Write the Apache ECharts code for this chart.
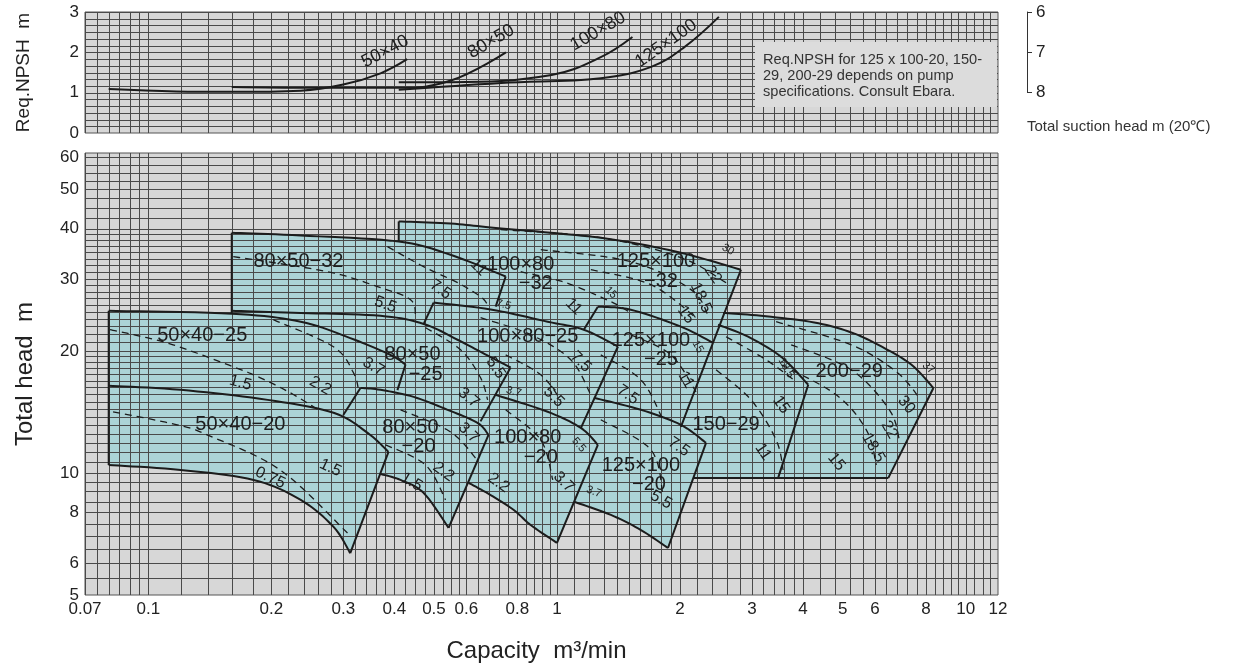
<!DOCTYPE html>
<html><head><meta charset="utf-8">
<script src="https://cdn.jsdelivr.net/npm/echarts@6/dist/echarts.min.js"></script>
<style>html,body{margin:0;padding:0;background:#fff}#c{width:1241px;height:671px}</style>
</head><body><div id="c"></div>
<script>
// ---------- axis ticks ----------
const capTicks = [0.07,0.1,0.2,0.3,0.4,0.5,0.6,0.8,1,2,3,4,5,6,8,10,12];
const headTicks = [5,6,8,10,20,30,40,50,60];
const npshTicks = [0,1,2,3];
const suctionTicks = [6,7,8];

// ---------- NPSH curves [capacity m3/min, NPSH m] ----------
const npsh50x40 = [[0.08,1.09],[0.117,1.03],[0.16,1.02],[0.236,1.05],[0.3,1.2],[0.37,1.48],[0.43,1.83]];
const npsh80x50 = [[0.16,1.14],[0.25,1.12],[0.41,1.12],[0.55,1.3],[0.75,2.0]];
const npsh100x80 = [[0.41,1.26],[0.55,1.26],[0.97,1.44],[1.28,1.88],[1.53,2.38]];
const npsh125x100 = [[0.41,1.07],[0.73,1.24],[1.28,1.36],[1.7,1.64],[2.05,2.13],[2.49,2.88]];
const npshLabels = [['50×40',0.38,2.02,28],['80×50',0.69,2.27,30],['100×80',1.26,2.52,30],['125×100',1.85,2.22,35]];

// ---------- performance-range boundaries [capacity, head] ----------
const left50x40 = [[0.08,10.46],[0.08,25.1]];
const top50x40_25 = [[0.08,25.1],[0.16,24.7],[0.236,23.6],[0.312,21.5],[0.391,19.55],[0.426,18.5]];
const right50x40_25 = [[0.426,18.5],[0.407,16.0]];
const top50x40_20 = [[0.08,16.4],[0.12,16.03],[0.196,15.14],[0.284,14.07],[0.344,12.55],[0.387,11.27]];
const right50x40_20 = [[0.387,11.27],[0.312,6.34]];
const bottom50x40_20 = [[0.312,6.34],[0.284,7.36],[0.236,8.58],[0.181,9.61],[0.12,10.17],[0.08,10.46]];
const left80x50_32 = [[0.16,24.7],[0.16,39.1]];
const top80x50_32 = [[0.16,39.1],[0.236,38.5],[0.41,37.2],[0.549,34.5],[0.749,30.5]];
const right80x50_32 = [[0.749,30.5],[0.708,25.7]];
const top80x50_25 = [[0.16,25.1],[0.236,24.8],[0.37,24.4],[0.472,23.3],[0.571,21.3],[0.688,19.3],[0.770,18.2]];
const right80x50_25 = [[0.770,18.2],[0.65,13.4]];
const left80x50_20 = [[0.3305,16.2],[0.300,13.9]];
const top80x50_20 = [[0.3305,16.2],[0.37,16.03],[0.446,15.4],[0.540,14.31],[0.639,13.29],[0.680,12.41]];
const right80x50_20 = [[0.680,12.41],[0.543,7.32]];
const bottom80x50_20 = [[0.370,9.94],[0.414,9.61],[0.472,8.92],[0.543,7.32]];
const left100x80_25 = [[0.499,26.3],[0.472,23.3]];
const top100x80_25 = [[0.499,26.3],[0.688,25.3],[0.949,23.6],[1.163,22.55],[1.41,20.5]];
const right100x80_25 = [[1.41,20.5],[1.144,12.9]];
const top100x80_20 = [[0.704,15.6],[0.949,14.15],[1.144,12.91],[1.259,11.73]];
const right100x80_20 = [[1.259,11.73],[1.0,6.72]];
const bottom100x80_20 = [[0.608,9.45],[0.688,8.82],[0.784,8.10],[0.862,7.44],[1.0,6.72]];
const left100x125_32 = [[0.41,37.2],[0.41,41.7]];
const top100x125_32 = [[0.41,41.7],[0.549,41.2],[0.688,40.3],[0.966,39.1],[1.378,37.6],[2.01,34.9],[2.82,31.7]];
const right125x100 = [[2.82,31.7],[2.409,20.94],[2.01,12.99]];
const left125x100_25 = [[1.259,25.7],[1.163,22.55]];
const top125x100_25 = [[1.259,25.7],[1.516,25.26],[2.01,22.94],[2.409,20.94]];
const top125x100_20 = [[1.231,15.32],[1.605,14.31],[2.01,13.14],[2.316,11.86]];
const right125x100_20 = [[2.316,11.86],[1.869,6.53]];
const bottom125x100_20 = [[1.105,8.48],[1.355,7.88],[1.605,7.23],[1.869,6.53]];
const top150_29 = [[2.478,23.2],[2.935,21.67],[3.537,19.33],[4.119,16.5]];
const right150_29 = [[4.119,16.5],[3.477,9.72]];
const bottom29 = [[2.152,9.72],[6.47,9.72]];
const top200_29 = [[2.55,24.8],[3.16,24.4],[4.26,23.5],[5.25,22.2],[6.22,20.5],[7.36,18.5],[8.34,16.2]];
const right200_29 = [[8.34,16.2],[6.47,9.72]];

const solidLines = [left50x40,top50x40_25,right50x40_25,top50x40_20,right50x40_20,bottom50x40_20,
  left80x50_32,top80x50_32,right80x50_32,top80x50_25,right80x50_25,left80x50_20,top80x50_20,right80x50_20,bottom80x50_20,
  left100x80_25,top100x80_25,right100x80_25,top100x80_20,right100x80_20,bottom100x80_20,
  left100x125_32,top100x125_32,right125x100,left125x100_25,top125x100_25,top125x100_20,right125x100_20,bottom125x100_20,
  top150_29,right150_29,bottom29,top200_29,right200_29];

// tinted (covered) area, as boundary pieces in order
const coveredArea = [
  [[0.08,25.1],[0.16,24.7]], left80x50_32, top80x50_32.slice(0,3), left100x125_32, top100x125_32,
  [[2.82,31.7],[2.55,24.8]], top200_29, right200_29, [[6.47,9.72],[2.152,9.72]], [[2.152,9.72],[1.869,6.53]],
  bottom125x100_20.slice().reverse(), [[1.105,8.48],[1.0,6.72]], bottom100x80_20.slice().reverse(),
  [[0.608,9.45],[0.543,7.32]], bottom80x50_20.slice().reverse(), [[0.370,9.94],[0.312,6.34]], bottom50x40_20, left50x40
];

// motor output boundaries (dashed)
const dash50x40_20 = [[0.082,14.15],[0.1177,13.14],[0.1393,12.41],[0.2103,10.17],[0.3072,7.11]];
const dash50x40_25a = [[0.0806,22.55],[0.0918,21.93],[0.115,20.7],[0.1614,18.27],[0.188,17.16],[0.2226,15.76],[0.2607,14.31]];
const dash50x40_25b = [[0.2022,23.87],[0.2838,20.47],[0.3177,17.66],[0.3268,16.03]];
const dash80x50_32a = [[0.1614,34.15],[0.2744,31.35],[0.3637,28.8],[0.4383,26.74],[0.4508,24.14]];
const dash80x50_32b = [[0.3848,36.14],[0.4716,32.26],[0.5713,29.45],[0.6503,27.2],[0.6766,25.99]];
const dash80x50_25 = [[0.477,22.81],[0.581,20.12],[0.6503,17.16],[0.6766,15.14]];
const dash80x50_20a = [[0.3805,11.73],[0.477,10.46],[0.5337,8.58]];
const dash80x50_20b = [[0.4142,14.31],[0.5492,12.62],[0.6431,10.65]];
const dash100x80_20 = [[0.749,14.31],[0.9127,12.06],[0.9766,9.61]];
const dash125x100_20 = [[1.28,13.52],[1.698,11.40],[1.817,8.82]];
const dash100x80_25a = [[0.6503,24.14],[0.8625,21.92],[1.0809,19.01],[1.2103,15.58]];
const dash100x80_25b = [[0.749,19.55],[0.9127,17.46],[1.0217,15.14]];
const dash125x100_25a = [[1.5163,21.92],[1.9004,19.55],[2.1887,15.85]];
const dash125x100_25b = [[1.28,19.55],[1.6045,16.97],[1.817,13.52]];
const dash100x80_32 = [[0.8153,31.35],[1.0509,29.45],[1.3548,26.44],[1.4993,24.98]];
const dash125x100_32a = [[0.7283,39.81],[1.28,38.04],[2.0108,33.96],[2.593,29.45]];
const dash125x100_32b = [[0.9127,35.53],[1.5163,33.19],[2.1279,28.31],[2.355,24.14]];
const dash125x100_32c = [[1.2103,31.71],[1.698,29.12],[2.1887,24.14]];
const dash150_29a = [[2.593,21.67],[3.249,19.01],[3.849,16.78]];
const dash150_29b = [[2.451,17.96],[2.985,15.14],[3.438,12.06],[3.577,10.17]];
const dash200_29a = [[3.438,23.6],[5.249,20.7],[6.768,17.76],[7.705,15.32]];
const dash200_29b = [[3.742,20.7],[5.249,17.96],[6.507,14.31],[6.884,12.06]];
const dash200_29c = [[3.537,18.48],[4.824,15.58],[5.714,12.77],[6.046,10.46]];
const dashedLines = [dash50x40_20,dash50x40_25a,dash50x40_25b,dash80x50_32a,dash80x50_32b,dash80x50_25,dash80x50_20a,dash80x50_20b,
  dash100x80_20,dash125x100_20,dash100x80_25a,dash100x80_25b,dash125x100_25a,dash125x100_25b,dash100x80_32,
  dash125x100_32a,dash125x100_32b,dash125x100_32c,dash150_29a,dash150_29b,dash200_29a,dash200_29b,dash200_29c];

// model names [text, capacity, head]
const modelLabels = [
  ['80×50−32',0.233,33.2],['50×40−25',0.1355,21.8],['50×40−20',0.168,13.14],
  ['80×50',0.443,19.55],['−25',0.477,17.46],['80×50',0.438,12.91],['−20',0.4585,11.59],
  ['100×80',0.815,32.6],['−32',0.887,29.3],['100×80−25',0.848,21.67],['100×80',0.848,12.2],['−20',0.913,10.89],
  ['125×100',1.7465,33.2],['−32',1.797,29.6],['125×100',1.698,21.19],['−25',1.797,19.0],
  ['125×100',1.6045,10.41],['−20',1.679,9.34],['150−29',2.593,13.14],['200−29',5.19,17.76]
];
// motor outputs kW [text, capacity, head, slant deg, small?]
const kwLabels = [
  ['1.5',0.279,10.29,25,0],['0.75',0.1988,9.72,25,0],['1.5',0.168,16.68,15,0],['2.2',0.2637,16.4,30,0],['3.7',0.3556,18.27,30,0],
  ['5.5',0.3805,25.99,20,0],['7.5',0.519,28.31,35,0],['11',0.643,32.08,45,0],['3.7',0.6078,15.32,40,0],['5.5',0.708,18.16,55,0],
  ['1.5',0.4407,9.5,30,0],['2.2',0.5278,10.06,35,0],['3.7',0.6078,12.55,45,0],['2.2',0.7199,9.45,35,0],['3.7',1.039,9.5,45,0],
  ['5.5',1.131,11.73,50,1],['3.7',1.231,8.98,20,1],['5.5',1.797,8.58,30,0],['7.5',1.9885,11.59,35,0],['3.7',0.7836,15.85,15,1],
  ['5.5',0.982,15.4,45,0],['7.5',1.144,18.79,45,0],['7.5',1.491,15.58,35,0],['11',2.069,16.97,60,0],['15',2.2131,20.47,60,1],
  ['7.5',0.7406,25.99,15,1],['11',1.099,25.7,45,0],['15',1.355,27.83,45,1],['30',2.622,35.53,30,1],['22',2.409,30.83,55,0],
  ['18.5',2.2514,27.04,65,0],['15',2.069,24.56,55,0],['18.5',3.638,18.16,60,1],['15',3.537,14.72,55,0],['11',3.1945,11.27,55,0],
  ['37',8.106,18.16,40,1],['30',7.161,14.72,50,0],['22',6.507,12.77,60,0],['18.5',5.943,11.53,60,0],['15',4.824,10.65,50,0]
];

// ---------- graph-paper rulings ----------
function steps(a,b,s){const r=[];for(let v=a;v<=b+1e-9;v+=s)r.push(+v.toFixed(4));return r;}
const xGrid = [].concat(steps(0.07,0.1,0.005),steps(0.12,0.4,0.02),steps(0.425,0.6,0.025),steps(0.64,1,0.04),
  steps(1.1,2,0.1),steps(2.2,4,0.2),steps(4.4,10,0.4),steps(10.5,12,0.5));
const headGrid = [].concat(steps(5,10,0.5),steps(10.625,20,0.625),steps(21,30,1),steps(31.25,40,1.25),steps(42.5,60,2.5));
const npshGrid = steps(0,3,1/6);

const FONT = '"Liberation Sans", Arial, Helvetica, sans-serif';
const FILL = '#acd4d7';
const INK = '#1c1c1c';
const RULE = '#4a4a4a';
const chart = echarts.init(document.getElementById('c'));

function catmull(pts, seg){
  seg = seg||10;
  if(pts.length<3) return pts.slice();
  const out=[];
  for(let i=0;i<pts.length-1;i++){
    const p0=pts[i-1]||pts[i], p1=pts[i], p2=pts[i+1], p3=pts[i+2]||pts[i+1];
    for(let t=0;t<seg;t++){
      const s=t/seg,s2=s*s,s3=s2*s;
      out.push([0,1].map(k=>0.5*((2*p1[k])+(-p0[k]+p2[k])*s+(2*p0[k]-5*p1[k]+4*p2[k]-p3[k])*s2+(-p0[k]+3*p1[k]-3*p2[k]+p3[k])*s3)));
    }
  }
  out.push(pts[pts.length-1]);
  return out;
}
function gridRender(xs, ys, yMin, yMax){
  return function(params, api){
    const ch=[];
    xs.forEach(x=>{const a=api.coord([x,yMin]),b=api.coord([x,yMax]);const px=Math.round(a[0])+0.5;
      ch.push({type:'line',shape:{x1:px,y1:a[1],x2:px,y2:b[1]},style:{stroke:RULE,lineWidth:1}});});
    ys.forEach(y=>{const a=api.coord([0.07,y]),b=api.coord([12,y]);const py=Math.round(a[1])+0.5;
      ch.push({type:'line',shape:{x1:a[0],y1:py,x2:b[0],y2:py},style:{stroke:RULE,lineWidth:1}});});
    return {type:'group',children:ch,silent:true};
  };
}
function textSeries(list, xi, render){
  return {type:'custom',xAxisIndex:xi,yAxisIndex:xi,z:6,silent:true,clip:false,
    data:list.map((l,i)=>[l[1],l[2],i]),renderItem:(params,api)=>render(list[api.value(2)],api.coord([list[api.value(2)][1],list[api.value(2)][2]]))};
}

const series = [];
series.push({type:'custom',xAxisIndex:1,yAxisIndex:1,z:1,clip:true,silent:true,data:[[1,10]],
  renderItem:(params,api)=>{let pts=[];coveredArea.forEach(seg=>{pts=pts.concat(catmull(seg.map(p=>api.coord(p))));});
    return {type:'polygon',shape:{points:pts},style:{fill:FILL}};}});
series.push({type:'custom',xAxisIndex:1,yAxisIndex:1,z:2,clip:true,silent:true,data:[[1,10]],
  renderItem:gridRender(xGrid,headGrid,5,61.5)});
series.push({type:'custom',xAxisIndex:0,yAxisIndex:0,z:2,clip:true,silent:true,data:[[1,1]],
  renderItem:gridRender(xGrid,npshGrid,0,3)});
series.push({type:'custom',xAxisIndex:1,yAxisIndex:1,z:3,clip:true,silent:true,
  data:dashedLines.map((d,i)=>[1,10,i]),
  renderItem:(params,api)=>({type:'polyline',shape:{points:catmull(dashedLines[api.value(2)].map(p=>api.coord(p)))},
    style:{stroke:INK,lineWidth:1.3,fill:null,lineDash:[7,5]}})});
series.push({type:'custom',xAxisIndex:1,yAxisIndex:1,z:4,clip:true,silent:true,
  data:solidLines.map((d,i)=>[1,10,i]),
  renderItem:(params,api)=>({type:'polyline',shape:{points:catmull(solidLines[api.value(2)].map(p=>api.coord(p)))},
    style:{stroke:INK,lineWidth:2,fill:null,lineJoin:'round'}})});
series.push(textSeries(modelLabels,1,(l,p)=>({type:'text',x:p[0],y:p[1],
  style:{text:l[0],font:'20px '+FONT,fill:'#1e1e1e',align:'center',verticalAlign:'middle'}})));
series.push(textSeries(kwLabels,1,(l,p)=>({type:'text',x:p[0],y:p[1],rotation:-l[3]*Math.PI/180,
  style:{text:l[0],font:(l[4]?'11px ':'16px ')+FONT,fill:'#1e1e1e',align:'center',verticalAlign:'middle'}})));
[npsh50x40,npsh80x50,npsh100x80,npsh125x100].forEach(d=>series.push({type:'line',xAxisIndex:0,yAxisIndex:0,z:4,
  data:d,smooth:0.4,symbol:'none',lineStyle:{color:INK,width:2},silent:true}));
series.push(textSeries(npshLabels,0,(l,p)=>({type:'text',x:p[0],y:p[1],rotation:l[3]*Math.PI/180,
  style:{text:l[0],font:'18px '+FONT,fill:'#1e1e1e',align:'center',verticalAlign:'middle'}})));

const axisLbl = {fontSize:17,color:'#222',fontFamily:FONT};
const option = {
  animation:false,
  grid:[
    {left:85,top:12,width:913,height:121,show:true,backgroundColor:'#d7d7d7',borderColor:'#555',borderWidth:1},
    {left:85,top:153,width:913,height:442,show:true,backgroundColor:'#d7d7d7',borderColor:'#555',borderWidth:1},
    {left:1027,top:12,width:1,height:80}
  ],
  xAxis:[
    {type:'log',gridIndex:0,min:0.07,max:12,axisLine:{show:false},axisTick:{show:false},axisLabel:{show:false},splitLine:{show:false}},
    {type:'log',gridIndex:1,min:0.07,max:12,axisLine:{show:false},axisTick:{show:false},splitLine:{show:false},
      axisLabel:Object.assign({customValues:capTicks,margin:6,formatter:v=>String(v)},axisLbl),
      name:'Capacity  m³/min',nameLocation:'middle',nameGap:44,nameTextStyle:{fontSize:24,color:'#222',fontFamily:FONT,padding:[0,10,0,0]}},
    {type:'value',gridIndex:2,show:false}
  ],
  yAxis:[
    {type:'value',gridIndex:0,min:0,max:3,interval:1,axisLine:{show:false},axisTick:{show:false},splitLine:{show:false},
      axisLabel:Object.assign({customValues:npshTicks,margin:6},axisLbl),
      name:'Req.NPSH  m',nameLocation:'middle',nameGap:52,nameTextStyle:{fontSize:19,color:'#222',fontFamily:FONT}},
    {type:'log',gridIndex:1,min:5,max:61.5,axisLine:{show:false},axisTick:{show:false},splitLine:{show:false},
      axisLabel:Object.assign({customValues:headTicks,margin:6,formatter:v=>String(v)},axisLbl),
      name:'Total head  m',nameLocation:'middle',nameGap:48,nameTextStyle:{fontSize:24,color:'#222',fontFamily:FONT}},
    {type:'value',gridIndex:2,min:6,max:8,interval:1,inverse:true,position:'right',
      axisLine:{show:true,lineStyle:{color:'#333',width:1}},axisTick:{show:true,inside:false,length:5,lineStyle:{color:'#333'}},
      axisLabel:Object.assign({customValues:suctionTicks,margin:8},axisLbl),splitLine:{show:false}}
  ],
  graphic:[
    {type:'rect',shape:{x:755,y:42,width:242,height:65},style:{fill:'#dcdcdc'},z:10},
    {type:'text',x:763,y:52,style:{text:'Req.NPSH for 125 x 100-20, 150-\n29, 200-29 depends on pump\nspecifications. Consult Ebara.',
      font:'14.6px '+FONT,fill:'#333',lineHeight:16},z:11},
    {type:'text',x:1027,y:119,style:{text:'Total suction head m (20℃)',font:'15px '+FONT,fill:'#333'}}
  ],
  series:series
};
chart.setOption(option);
</script></body></html>
